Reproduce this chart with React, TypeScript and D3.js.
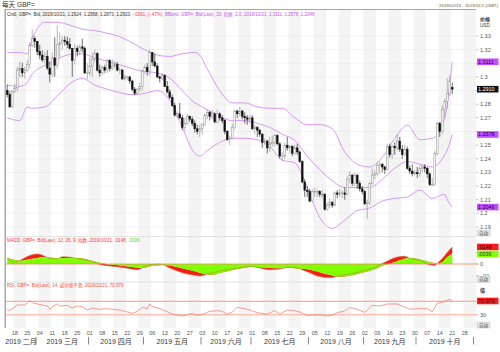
import React from "react";
import * as d3 from "d3";

// GBP= daily candles, 2019/02/13 .. 2019/10/21 (one entry per trading day)
const opens = [
  1.2900, 1.2870, 1.2780, 1.2895, 1.2920, 1.3050, 1.3060, 1.3030, 1.3050, 1.3090,
  1.3230, 1.3280, 1.3260, 1.3185, 1.3160, 1.3125, 1.3150, 1.3065, 1.3020, 1.3140,
  1.3085, 1.3235, 1.3250, 1.3270, 1.3260, 1.3240, 1.3210, 1.3120, 1.3210, 1.3185,
  1.3220, 1.3210, 1.3030, 1.3030, 1.3080, 1.3130, 1.3170, 1.3050, 1.3030, 1.3070,
  1.3050, 1.3120, 1.3060, 1.3080, 1.3090, 1.3050, 1.3050, 1.2985, 1.3000, 1.3000,
  1.2970, 1.2910, 1.2880, 1.2910, 1.2930, 1.3040, 1.3070, 1.3040, 1.3180, 1.3110,
  1.3080, 1.3000, 1.2990, 1.3010, 1.2930, 1.2890, 1.2850, 1.2790, 1.2720, 1.2730,
  1.2700, 1.2630, 1.2660, 1.2710, 1.2690, 1.2660, 1.2620, 1.2600, 1.2620, 1.2650,
  1.2720, 1.2740, 1.2710, 1.2730, 1.2670, 1.2730, 1.2700, 1.2680, 1.2600, 1.2540,
  1.2550, 1.2630, 1.2750, 1.2730, 1.2750, 1.2710, 1.2700, 1.2690, 1.2700, 1.2620,
  1.2630, 1.2610, 1.2580, 1.2520, 1.2530, 1.2480, 1.2510, 1.2520, 1.2570, 1.2510,
  1.2420, 1.2420, 1.2500, 1.2480, 1.2490, 1.2440, 1.2480, 1.2450, 1.2380, 1.2230,
  1.2170, 1.2160, 1.2090, 1.2160, 1.2160, 1.2160, 1.2140, 1.2140, 1.2030, 1.2060,
  1.2080, 1.2060, 1.2150, 1.2140, 1.2150, 1.2150, 1.2140, 1.2250, 1.2280, 1.2220,
  1.2280, 1.2220, 1.2180, 1.2160, 1.2070, 1.2080, 1.2220, 1.2280, 1.2290, 1.2350,
  1.2360, 1.2340, 1.2320, 1.2490, 1.2430, 1.2490, 1.2480, 1.2530, 1.2470, 1.2430,
  1.2470, 1.2330, 1.2310, 1.2290, 1.2300, 1.2290, 1.2330, 1.2340, 1.2330, 1.2290,
  1.2210, 1.2210, 1.2440, 1.2660, 1.2600, 1.2760, 1.2820, 1.2880, 1.2924,
];
const highs = [
  1.2945, 1.2895, 1.2905, 1.2950, 1.3075, 1.3110, 1.3105, 1.3075, 1.3125, 1.3255,
  1.3350, 1.3300, 1.3265, 1.3235, 1.3195, 1.3185, 1.3195, 1.3110, 1.3180, 1.3290,
  1.3380, 1.3325, 1.3300, 1.3300, 1.3295, 1.3285, 1.3210, 1.3240, 1.3230, 1.3240,
  1.3280, 1.3225, 1.3100, 1.3140, 1.3180, 1.3200, 1.3180, 1.3090, 1.3090, 1.3090,
  1.3130, 1.3130, 1.3130, 1.3120, 1.3110, 1.3070, 1.3060, 1.3015, 1.3010, 1.3010,
  1.2980, 1.2925, 1.2920, 1.2960, 1.3050, 1.3090, 1.3100, 1.3200, 1.3180, 1.3170,
  1.3100, 1.3010, 1.3030, 1.3020, 1.2970, 1.2910, 1.2870, 1.2810, 1.2750, 1.2810,
  1.2720, 1.2700, 1.2730, 1.2720, 1.2710, 1.2680, 1.2650, 1.2650, 1.2660, 1.2730,
  1.2760, 1.2750, 1.2760, 1.2740, 1.2760, 1.2740, 1.2720, 1.2690, 1.2610, 1.2570,
  1.2660, 1.2760, 1.2760, 1.2780, 1.2760, 1.2740, 1.2720, 1.2720, 1.2720, 1.2650,
  1.2640, 1.2620, 1.2590, 1.2550, 1.2540, 1.2560, 1.2570, 1.2580, 1.2580, 1.2520,
  1.2450, 1.2520, 1.2560, 1.2500, 1.2500, 1.2500, 1.2510, 1.2460, 1.2390, 1.2250,
  1.2200, 1.2180, 1.2180, 1.2190, 1.2180, 1.2170, 1.2170, 1.2150, 1.2080, 1.2110,
  1.2090, 1.2160, 1.2170, 1.2180, 1.2170, 1.2190, 1.2270, 1.2310, 1.2290, 1.2300,
  1.2290, 1.2240, 1.2200, 1.2170, 1.2100, 1.2230, 1.2330, 1.2320, 1.2380, 1.2380,
  1.2370, 1.2350, 1.2510, 1.2510, 1.2500, 1.2520, 1.2580, 1.2560, 1.2500, 1.2500,
  1.2490, 1.2350, 1.2360, 1.2320, 1.2340, 1.2350, 1.2360, 1.2360, 1.2340, 1.2300,
  1.2260, 1.2460, 1.2670, 1.2670, 1.2790, 1.2840, 1.2990, 1.3010, 1.2958,
];
const lows = [
  1.2850, 1.2775, 1.2770, 1.2880, 1.2895, 1.3000, 1.3000, 1.2990, 1.3040, 1.3060,
  1.3220, 1.3215, 1.3160, 1.3130, 1.3110, 1.3100, 1.3050, 1.2960, 1.3000, 1.3000,
  1.3060, 1.3140, 1.3200, 1.3230, 1.3210, 1.3200, 1.3000, 1.3090, 1.3150, 1.3160,
  1.3180, 1.3020, 1.2980, 1.3010, 1.3000, 1.3110, 1.3040, 1.3000, 1.3010, 1.3030,
  1.3030, 1.3040, 1.3050, 1.3060, 1.3040, 1.3020, 1.2980, 1.2975, 1.2975, 1.2950,
  1.2895, 1.2865, 1.2870, 1.2890, 1.2900, 1.3020, 1.3010, 1.3010, 1.3080, 1.3070,
  1.2990, 1.2960, 1.2975, 1.2925, 1.2880, 1.2840, 1.2780, 1.2710, 1.2700, 1.2690,
  1.2610, 1.2605, 1.2650, 1.2670, 1.2640, 1.2590, 1.2580, 1.2560, 1.2580, 1.2640,
  1.2690, 1.2680, 1.2690, 1.2660, 1.2660, 1.2680, 1.2660, 1.2580, 1.2530, 1.2500,
  1.2540, 1.2610, 1.2700, 1.2710, 1.2690, 1.2660, 1.2650, 1.2660, 1.2610, 1.2580,
  1.2560, 1.2560, 1.2480, 1.2500, 1.2440, 1.2450, 1.2490, 1.2490, 1.2500, 1.2400,
  1.2380, 1.2400, 1.2460, 1.2440, 1.2420, 1.2430, 1.2430, 1.2370, 1.2220, 1.2120,
  1.2120, 1.2080, 1.2080, 1.2120, 1.2120, 1.2120, 1.2110, 1.2020, 1.2020, 1.2040,
  1.2040, 1.2050, 1.2110, 1.2120, 1.2110, 1.2100, 1.2130, 1.2220, 1.2200, 1.2200,
  1.2180, 1.2160, 1.2140, 1.2060, 1.1960, 1.2060, 1.2210, 1.2250, 1.2270, 1.2290,
  1.2300, 1.2290, 1.2310, 1.2410, 1.2400, 1.2430, 1.2460, 1.2450, 1.2400, 1.2420,
  1.2320, 1.2290, 1.2270, 1.2280, 1.2260, 1.2270, 1.2300, 1.2300, 1.2260, 1.2200,
  1.2200, 1.2200, 1.2420, 1.2560, 1.2580, 1.2700, 1.2770, 1.2860, 1.2873,
];
const closes = [
  1.2870, 1.2780, 1.2895, 1.2920, 1.3050, 1.3060, 1.3030, 1.3050, 1.3090, 1.3230,
  1.3280, 1.3260, 1.3185, 1.3160, 1.3125, 1.3150, 1.3065, 1.3020, 1.3140, 1.3085,
  1.3235, 1.3250, 1.3270, 1.3260, 1.3240, 1.3210, 1.3120, 1.3210, 1.3185, 1.3220,
  1.3210, 1.3030, 1.3030, 1.3080, 1.3130, 1.3170, 1.3050, 1.3030, 1.3070, 1.3050,
  1.3120, 1.3060, 1.3080, 1.3090, 1.3050, 1.3050, 1.2985, 1.3000, 1.3000, 1.2970,
  1.2910, 1.2880, 1.2910, 1.2930, 1.3040, 1.3070, 1.3040, 1.3180, 1.3110, 1.3080,
  1.3000, 1.2990, 1.3010, 1.2930, 1.2890, 1.2850, 1.2790, 1.2720, 1.2730, 1.2700,
  1.2630, 1.2660, 1.2710, 1.2690, 1.2660, 1.2620, 1.2600, 1.2620, 1.2650, 1.2720,
  1.2740, 1.2710, 1.2730, 1.2670, 1.2730, 1.2700, 1.2680, 1.2600, 1.2540, 1.2550,
  1.2630, 1.2750, 1.2730, 1.2750, 1.2710, 1.2700, 1.2690, 1.2700, 1.2620, 1.2630,
  1.2610, 1.2580, 1.2520, 1.2530, 1.2480, 1.2510, 1.2520, 1.2570, 1.2510, 1.2420,
  1.2420, 1.2500, 1.2480, 1.2490, 1.2440, 1.2480, 1.2450, 1.2380, 1.2230, 1.2170,
  1.2160, 1.2090, 1.2160, 1.2160, 1.2160, 1.2140, 1.2140, 1.2030, 1.2060, 1.2080,
  1.2060, 1.2150, 1.2140, 1.2150, 1.2150, 1.2140, 1.2250, 1.2280, 1.2220, 1.2280,
  1.2220, 1.2180, 1.2160, 1.2070, 1.2080, 1.2220, 1.2280, 1.2290, 1.2350, 1.2360,
  1.2340, 1.2320, 1.2490, 1.2430, 1.2490, 1.2480, 1.2530, 1.2470, 1.2430, 1.2470,
  1.2330, 1.2310, 1.2290, 1.2300, 1.2290, 1.2330, 1.2340, 1.2330, 1.2290, 1.2210,
  1.2210, 1.2440, 1.2660, 1.2600, 1.2760, 1.2820, 1.2880, 1.2971, 1.2910,
];

// Bollinger band (20, 2.0) at these trading-day indices
const bbDays = [0, 5, 8, 10, 15, 20, 25, 30, 35, 40, 45, 50, 55, 60, 65, 70, 75, 77, 80, 85,
  90, 95, 100, 105, 110, 115, 120, 125, 130, 135, 140, 145, 150, 155, 160, 165, 170, 175, 176, 177, 178];
const bbUpper = [1.318, 1.318, 1.317, 1.328, 1.340, 1.340, 1.338, 1.335, 1.334, 1.332, 1.3295, 1.325, 1.320, 1.316, 1.315, 1.317, 1.318, 1.316, 1.306, 1.290,
  1.281, 1.281, 1.278, 1.277, 1.277, 1.270, 1.265, 1.265, 1.262, 1.245, 1.236, 1.234, 1.241, 1.255, 1.2647, 1.254, 1.255, 1.270, 1.280, 1.295, 1.3111];
const bbMiddle = [1.294, 1.293, 1.296, 1.302, 1.3085, 1.313, 1.3165, 1.317, 1.314, 1.3115, 1.309, 1.306, 1.304, 1.303, 1.299, 1.290, 1.281, 1.279, 1.276, 1.271,
  1.268, 1.268, 1.266, 1.263, 1.258, 1.2535, 1.242, 1.232, 1.224, 1.219, 1.219, 1.219, 1.225, 1.233, 1.238, 1.236, 1.234, 1.243, 1.2465, 1.2515, 1.2578];
const bbLower = [1.270, 1.268, 1.278, 1.277, 1.278, 1.286, 1.295, 1.299, 1.294, 1.291, 1.2885, 1.287, 1.288, 1.290, 1.283, 1.263, 1.244, 1.242, 1.246, 1.252,
  1.255, 1.255, 1.254, 1.249, 1.239, 1.237, 1.219, 1.197, 1.189, 1.195, 1.202, 1.204, 1.209, 1.211, 1.212, 1.217, 1.211, 1.214, 1.210, 1.207, 1.2046];

// MACD (12, 26, 9)
const macdDays = [0, 3, 5, 8, 10, 12, 15, 17, 20, 22, 25, 28, 30, 32, 35, 37, 40, 45, 50, 52, 55, 58, 60, 62, 65,
  70, 75, 77, 80, 82, 85, 90, 95, 97, 100, 105, 110, 112, 115, 118, 121, 124, 126, 128, 130, 132, 135,
  140, 144, 148, 150, 152, 155, 159, 161, 165, 166, 169, 171, 172, 174, 176, 177, 178];
const macdValues = [.0045, .0015, .0030, .0065, .0080, .0088, .0068, .0046, .0045, .0062, .0060, .0046, .0038, .0030, .0012, -.0005, -.0015, -.0026, -.0045, -.0050, -.0022, -.0005, .0000, -.0004, -.0035,
  -.0075, -.0098, -.0104, -.0088, -.0078, -.0060, -.0042, -.0025, -.0022, -.0030, -.0050, -.0042, -.0028, -.0030, -.0050, -.0077, -.0104, -.0112, -.0118, -.0117, -.0108, -.0094,
  -.0074, -.0050, -.0020, .0005, .0025, .0055, .0068, .0050, .0030, .0022, -.0008, -.0012, .0005, .0047, .0101, .0125, .0148];
const signalValues = [.0052, .0035, .0028, .0038, .0045, .0052, .0060, .0056, .0050, .0052, .0055, .0053, .0047, .0040, .0022, .0010, -.0003, -.0012, -.0027, -.0032, -.0030, -.0018, -.0012, -.0008, -.0014,
  -.0038, -.0063, -.0075, -.0090, -.0094, -.0078, -.0052, -.0032, -.0025, -.0027, -.0034, -.0037, -.0033, -.0036, -.0040, -.0050, -.0065, -.0078, -.0090, -.0100, -.0109, -.0108,
  -.0088, -.0066, -.0038, -.0016, -.0003, .0015, .0045, .0052, .0040, .0035, .0016, .0008, .0006, .0015, .0060, .0076, .0092];

// RSI (14)
const rsiDays = [0, 1, 4, 7, 9, 10, 12, 16, 17, 18, 20, 21, 24, 26, 28, 30, 32, 34, 37, 40, 42, 45, 48, 50, 52, 54, 56, 57, 58,
  61, 64, 66, 70, 72, 74, 76, 78, 81, 84, 86, 88, 90, 92, 95, 97, 100, 104, 107, 109, 112, 114, 117, 120, 122, 125, 128, 130,
  132, 135, 137, 140, 143, 146, 149, 152, 156, 158, 161, 164, 168, 170, 172, 174, 177, 178];
const rsiValues = [46, 42, 59, 59, 71, 66, 62, 56, 46, 54, 62, 56, 58, 50, 56, 54, 44, 50, 46, 48, 46, 44, 38, 34, 40, 52, 48, 62, 54,
  48, 39, 32, 26, 30, 34, 28, 31, 40, 42, 40, 31, 38, 52, 48, 44, 36, 32, 42, 32, 44, 43, 38, 28, 29, 30, 26, 29,
  36, 41, 52, 46, 37, 58, 56, 62, 62, 56, 46, 48, 48, 39, 64, 67, 76, 70.979];

const priceTicks = [1.19, 1.2, 1.21, 1.22, 1.23, 1.24, 1.25, 1.26, 1.27, 1.28, 1.29, 1.3, 1.31, 1.32, 1.33];
const macdTicks = [0.01, 0, -0.01];
const rsiTicks = [70, 30];
const monthNames = ["一月", "二月", "三月", "四月", "五月", "六月", "七月", "八月", "九月", "十月", "十一月", "十二月"];

const FONT = "'Liberation Sans', Arial, 'Noto Sans CJK SC', sans-serif";
const PLOT_L = 6;
const PLOT_R = 476;

// every weekday from 2019/02/13 to 2019/11/01
const tradingDays: Date[] = [];
for (let t = Date.UTC(2019, 1, 13); t <= Date.UTC(2019, 10, 1); t += 864e5) {
  const d = new Date(t);
  if (d.getUTCDay() !== 0 && d.getUTCDay() !== 6) tradingDays.push(d);
}

const ValueBox = ({ y, text, fill, color }: { y: number; text: string; fill: string; color: string }) => (
  <g>
    <rect x={477} y={y - 3.3} width={21.5} height={6.6} fill={fill} />
    <text x={478} y={y + 1.9} fontSize={5.4} fill={color} fontFamily={FONT}>{text}</text>
  </g>
);

const AutoButton = ({ y }: { y: number }) => (
  <g>
    <rect x={477} y={y - 3} width={13} height={6} fill="#e6e6e6" stroke="#b5b5b5" strokeWidth={0.4} />
    <text x={483.5} y={y + 1.7} fontSize={4.6} textAnchor="middle" fill="#444" fontFamily={FONT}>自动</text>
  </g>
);

// tick labels hidden behind a value box are not drawn
const clear = (y: number, boxes: number[]) => boxes.every((b) => Math.abs(b - y) > 5.5);

export default function App() {
  const n = tradingDays.length;
  const x = d3.scaleBand<number>().domain(d3.range(n)).range([PLOT_L, PLOT_R]);
  const step = x.step();
  const cx = (i: number) => (x(i) as number) + step / 2;
  const bodyW = step * 0.7;

  const yP = d3.scaleLinear().domain([1.19, 1.33]).range([227, 36]);
  const yM = d3.scaleLinear().domain([-0.01, 0.01]).range([275.5, 252.5]);
  const yR = d3.scaleLinear().domain([30, 70]).range([314.7, 301.3]);

  const mondays = d3.range(n).filter((i) => tradingDays[i].getUTCDay() === 1);
  const months = d3.groups(d3.range(n), (i) => tradingDays[i].getUTCMonth());

  const bandLine = (vals: number[]) =>
    d3.line<number>().x((d, k) => cx(bbDays[k])).y((v) => yP(v)).curve(d3.curveMonotoneX)(vals) || "";

  const macdPts = macdDays.map((d, k) => ({ i: d, m: macdValues[k], s: signalValues[k] }));
  const redArea = d3.area<any>().x((p) => cx(p.i)).y0((p) => yM(p.s)).y1((p) => yM(p.m)).curve(d3.curveMonotoneX)(macdPts) || "";
  const greenArea = d3.area<any>().x((p) => cx(p.i)).y0(yM(0)).y1((p) => yM(p.s)).curve(d3.curveMonotoneX)(macdPts) || "";
  const macdLine = d3.line<any>().x((p) => cx(p.i)).y((p) => yM(p.m)).curve(d3.curveMonotoneX)(macdPts) || "";

  const rsiLine = d3.line<number>().x((d, k) => cx(rsiDays[k])).y((v) => yR(v))(rsiValues) || "";

  const last = closes.length - 1;
  const lastUpper = bbUpper[bbUpper.length - 1];
  const lastMiddle = bbMiddle[bbMiddle.length - 1];
  const lastLower = bbLower[bbLower.length - 1];
  const priceBoxes = [yP(lastUpper), yP(closes[last]), yP(lastMiddle), yP(lastLower)];
  const redBoxY = yM(macdValues[macdValues.length - 1]);
  const greenBoxY = Math.max(yM(signalValues[signalValues.length - 1]), redBoxY + 7);
  const rsiBoxY = yR(rsiValues[rsiValues.length - 1]);

  return (
    <svg width={500} height={352} style={{ position: "absolute", left: 0, top: 0 }} fontFamily={FONT}>
      <defs>
        <clipPath id="mainClip"><rect x={PLOT_L} y={17} width={PLOT_R - PLOT_L} height={219} /></clipPath>
        <clipPath id="macdClip"><rect x={PLOT_L} y={237} width={PLOT_R - PLOT_L} height={45} /></clipPath>
      </defs>
      <rect width={500} height={352} fill="#fff" />

      {/* weekly stripes */}
      {mondays.map((m, k) => (
        <rect key={m} x={x(m)} y={10} width={step * Math.min(5, n - m)} height={318} fill={k % 2 === 0 ? "#f4f4f4" : "#fff"} />
      ))}

      {/* price grid */}
      {priceTicks.map((t) => (
        <line key={t} x1={PLOT_L} x2={PLOT_R} y1={yP(t)} y2={yP(t)} stroke="#e6e6e6" strokeWidth={0.5} />
      ))}
      <line x1={PLOT_L} x2={PLOT_R} y1={236.5} y2={236.5} stroke="#dcdcdc" strokeWidth={0.8} />
      <line x1={PLOT_L} x2={PLOT_R} y1={282} y2={282} stroke="#dcdcdc" strokeWidth={0.8} />

      {/* bollinger */}
      <g clipPath="url(#mainClip)" fill="none" stroke="#d27cf5" strokeWidth={0.8}>
        <path d={bandLine(bbUpper)} />
        <path d={bandLine(bbMiddle)} />
        <path d={bandLine(bbLower)} />
      </g>

      {/* candles */}
      <g clipPath="url(#mainClip)">
        {opens.map((o, i) => {
          const c = closes[i];
          const up = c >= o;
          const top = yP(Math.max(o, c));
          const h = Math.max(yP(Math.min(o, c)) - top, 0.6);
          const col = up ? "#8c8c8c" : "#111";
          return (
            <g key={i}>
              <line x1={cx(i)} x2={cx(i)} y1={yP(highs[i])} y2={yP(lows[i])} stroke={col} strokeWidth={0.6} />
              <rect x={cx(i) - bodyW / 2} y={top} width={bodyW} height={h} fill={up ? "#fff" : "#111"} stroke={col} strokeWidth={0.5} />
            </g>
          );
        })}
      </g>

      {/* MACD */}
      <g clipPath="url(#macdClip)">
        <path d={redArea} fill="#ff1a1a" />
        <path d={greenArea} fill="#80ff00" />
        <path d={macdLine} fill="none" stroke="#b8702e" strokeWidth={0.6} strokeOpacity={0.85} />
      </g>
      <line x1={PLOT_L} x2={478} y1={yM(0)} y2={yM(0)} stroke="#f2836b" strokeWidth={0.8} />

      {/* RSI */}
      <line x1={PLOT_L} x2={PLOT_R} y1={yR(70)} y2={yR(70)} stroke="#ff9484" strokeWidth={1.1} />
      <line x1={PLOT_L} x2={PLOT_R} y1={yR(30)} y2={yR(30)} stroke="#ffaa9c" strokeWidth={1.1} />
      <path d={rsiLine} fill="none" stroke="#f27462" strokeWidth={0.7} />

      {/* frame */}
      <line x1={5} x2={PLOT_R} y1={9.5} y2={9.5} stroke="#a8a8a8" strokeWidth={1} />
      <line x1={5.2} x2={5.2} y1={9.5} y2={328} stroke="#9a9a9a" strokeWidth={1.3} />

      {/* title */}
      <text x={2} y={7.4} fontSize={6.6} fill="#333">每天 GBP=</text>
      <text x={498} y={7.2} fontSize={4.4} fill="#555" textAnchor="end">2019/02/13 - 2019/11/1 (GMT)</text>

      {/* legends */}
      <text x={7} y={15.6} fontSize={4.5}>
        <tspan fill="#333">Cndl, GBP=, Bid, 2019/10/21, 1.2924, 1.2958, 1.2873, 1.2910, </tspan>
        <tspan fill="#ff3b3b">-.0061, (-.47%), </tspan>
        <tspan fill="#c855f5">BBand, GBP=, Bid(Last), 20, 指数, 2.0, 2019/10/21, 1.3111, 1.2578, 1.2046</tspan>
      </text>
      <text x={7} y={242.4} fontSize={4.5}>
        <tspan fill="#ff3030">MACD, GBP=, Bid(Last), 12, 26, 9, 指数, 2019/10/21, .0148, </tspan>
        <tspan fill="#6ad400">.0036</tspan>
      </text>
      <text x={7} y={287} fontSize={4.5} fill="#ff4a3a">RSI, GBP=, Bid(Last), 14, 威尔德平滑, 2019/10/21, 70.979</text>

      {/* price axis */}
      <text x={480} y={20.5} fontSize={5} fill="#333" fontWeight="bold">价格</text>
      <text x={480} y={27} fontSize={4.6} fill="#333">USD</text>
      {priceTicks.map((t) => (
        <g key={t}>
          <line x1={476} x2={478.5} y1={yP(t)} y2={yP(t)} stroke="#888" strokeWidth={0.5} />
          {clear(yP(t), priceBoxes) && (
            <text x={480} y={yP(t) + 2} fontSize={5.5} fill="#555">{String(+t.toFixed(2))}</text>
          )}
        </g>
      ))}
      <ValueBox y={yP(lastUpper)} text={d3.format(".4f")(lastUpper)} fill="#c64cff" color="#2a0038" />
      <ValueBox y={yP(closes[last])} text={d3.format(".4f")(closes[last])} fill="#111" color="#fff" />
      <ValueBox y={yP(lastMiddle)} text={d3.format(".4f")(lastMiddle)} fill="#c64cff" color="#2a0038" />
      <ValueBox y={yP(lastLower)} text={d3.format(".4f")(lastLower)} fill="#c64cff" color="#2a0038" />
      <AutoButton y={233} />

      {/* MACD axis */}
      {macdTicks.map((t) => (
        <g key={t}>
          <line x1={476} x2={478.5} y1={yM(t)} y2={yM(t)} stroke="#888" strokeWidth={0.5} />
          {clear(yM(t), [redBoxY, greenBoxY]) && (
            <text x={480} y={yM(t) + 2} fontSize={5.5} fill="#555">{t === 0 ? "0" : t > 0 ? ".01" : "-.01"}</text>
          )}
        </g>
      ))}
      <ValueBox y={redBoxY} text=".0148" fill="#ff1a1a" color="#111" />
      <ValueBox y={greenBoxY} text=".0036" fill="#80ff00" color="#333" />
      <AutoButton y={279.5} />

      {/* RSI axis */}
      <text x={480} y={292} fontSize={5} fill="#333" fontWeight="bold">值</text>
      {rsiTicks.map((t) => (
        <g key={t}>
          <line x1={476} x2={478.5} y1={yR(t)} y2={yR(t)} stroke="#888" strokeWidth={0.5} />
          {clear(yR(t), [rsiBoxY]) && (
            <text x={480} y={yR(t) + 2} fontSize={5.5} fill="#555">{t}</text>
          )}
        </g>
      ))}
      <ValueBox y={rsiBoxY} text="70.979" fill="#ff1a1a" color="#111" />
      <AutoButton y={325} />

      {/* date axis */}
      {mondays.map((m) => (
        <text key={m} x={cx(m)} y={335} fontSize={5.5} fill="#555" textAnchor="middle">
          {d3.utcFormat("%d")(tradingDays[m])}
        </text>
      ))}
      {months.map(([mo, idxs], k) => {
        const first = idxs[0];
        const lastIdx = idxs[idxs.length - 1];
        const mid = ((x(first) as number) + (x(lastIdx) as number) + step) / 2;
        return (
          <g key={mo}>
            {k > 0 && <line x1={x(first)} x2={x(first)} y1={337} y2={344.5} stroke="#555" strokeWidth={0.7} />}
            {idxs.length > 5 && (
              <text x={mid} y={343.6} fontSize={7} fill="#333" textAnchor="middle">{`2019 ${monthNames[mo]}`}</text>
            )}
          </g>
        );
      })}
    </svg>
  );
}
